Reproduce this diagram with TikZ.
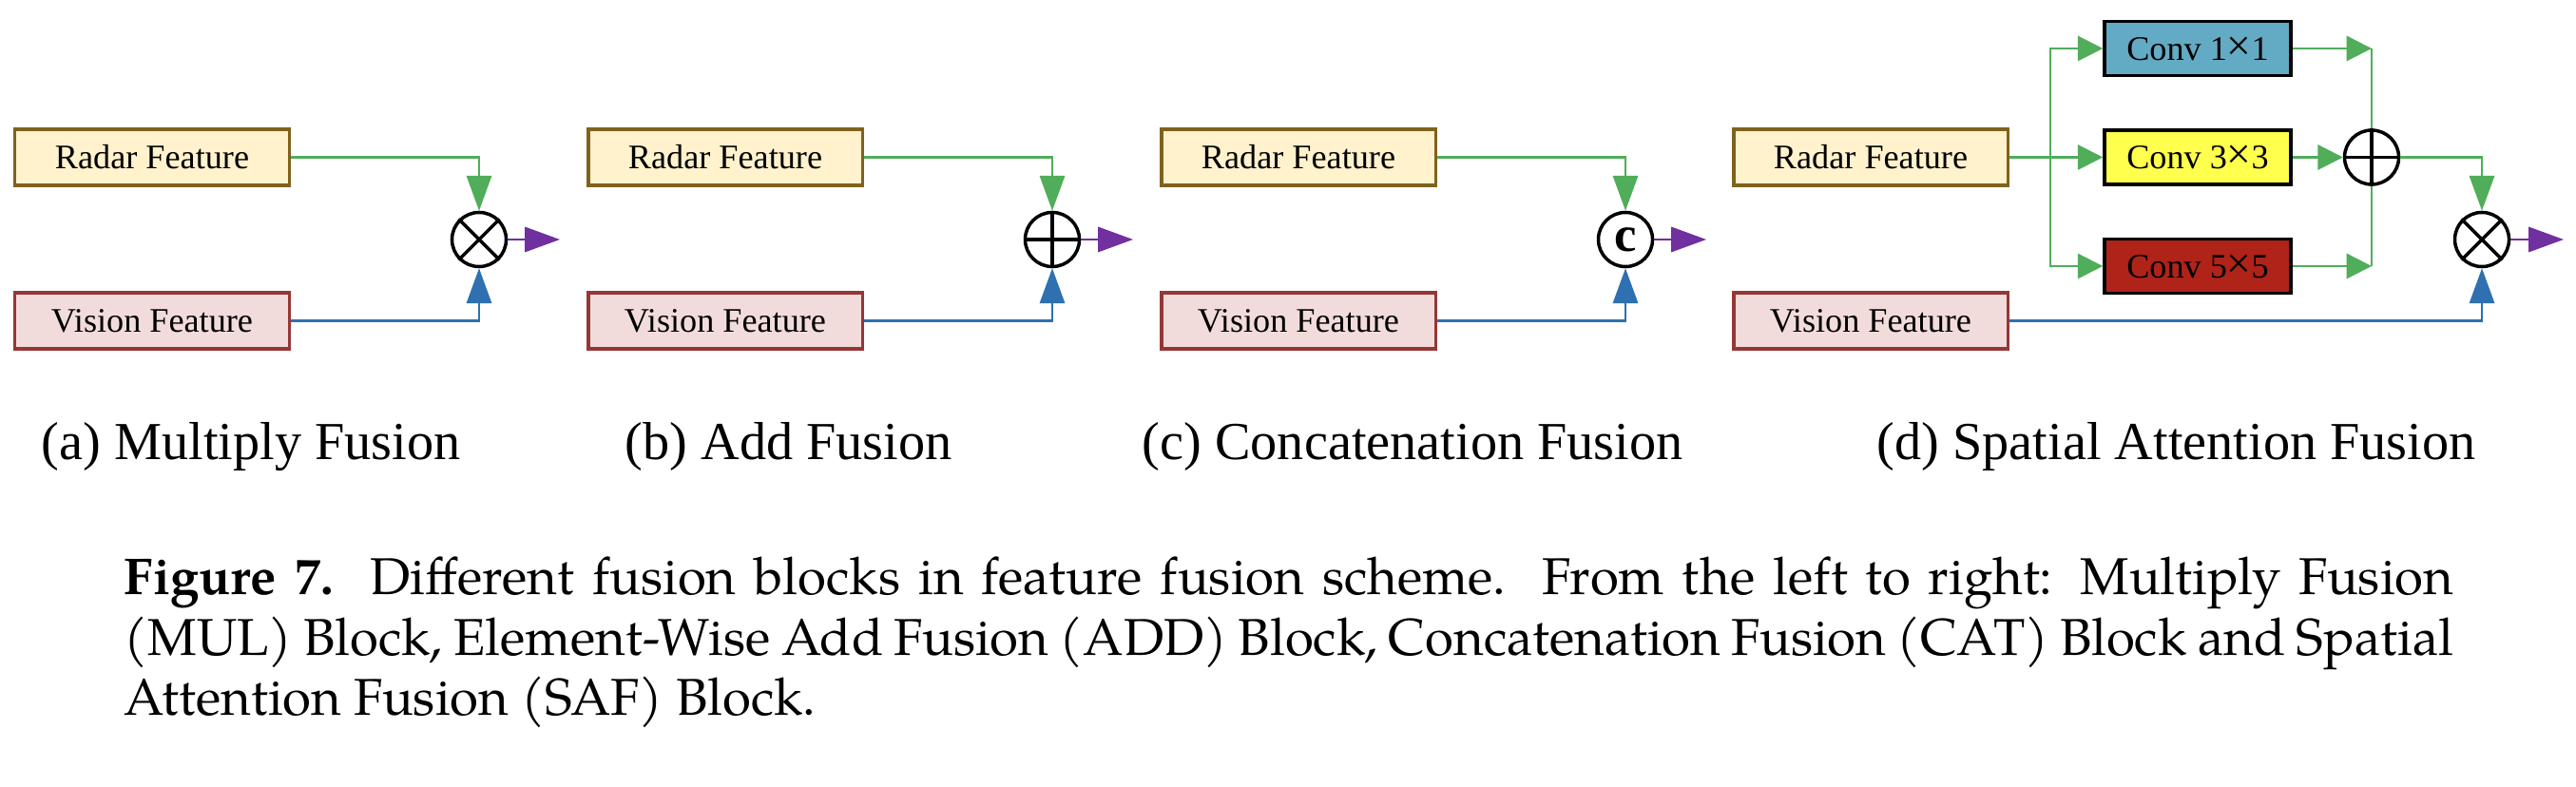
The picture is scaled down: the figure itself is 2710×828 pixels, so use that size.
\documentclass[tikz,border=0pt]{standalone}
\usepackage{fontspec}
\setmainfont{Liberation Serif}
\newfontfamily\capfont{TeX Gyre Pagella}
\usepackage{tikz}
\usetikzlibrary{arrows.meta}

\definecolor{radarfill}{RGB}{255,242,204}
\definecolor{radardraw}{RGB}{127,98,30}
\definecolor{visionfill}{RGB}{242,220,219}
\definecolor{visiondraw}{RGB}{149,55,53}
\definecolor{green1}{RGB}{80,173,90}
\definecolor{blue1}{RGB}{46,112,176}
\definecolor{purple1}{RGB}{112,48,160}
\definecolor{conv1fill}{RGB}{99,170,196}
\definecolor{conv3fill}{RGB}{255,255,77}
\definecolor{conv5fill}{RGB}{175,35,25}
\newcommand{\bigx}{{\fontsize{13}{13}\selectfont ×}}

\begin{document}
\begin{tikzpicture}[x=0.01cm, y=-0.01cm,
    feat/.style={draw, line width=.9pt, minimum width=2.88cm, minimum height=.59cm, inner sep=0pt, font=\fontsize{10.3}{12}\selectfont},
    radar/.style={feat, draw=radardraw, fill=radarfill},
    vision/.style={feat, draw=visiondraw, fill=visionfill},
    conv/.style={draw, line width=1pt, minimum width=1.96cm, minimum height=.57cm, inner sep=0pt, font=\fontsize{10.3}{12}\selectfont},
    op/.style={circle, draw, line width=1pt, minimum size=.57cm, inner sep=0pt, fill=white},
    gline/.style={green1, line width=.6pt},
    garrow/.style={gline, -{Triangle[length=10.5pt, width=7.5pt]}},
    gshort/.style={gline, -{Triangle[length=7.5pt, width=7.5pt]}},
    barrow/.style={blue1, line width=.6pt, -{Triangle[length=10.5pt, width=7.5pt]}},
    parrow/.style={purple1, line width=.6pt, -{Triangle[length=10.5pt, width=7.5pt]}},
    subcap/.style={anchor=base west, inner sep=0pt, font=\fontsize{16}{19}\selectfont}]
    \useasboundingbox (0,0) rectangle (2710,828);

    % (a) multiply
    \node[radar] (ra) at (160,165.5) {Radar Feature};
    \node[vision] (va) at (160,337.5) {Vision Feature};
    \node[op] (mula) at (504,252) {};
    \draw[line width=1pt] (mula.north west) -- (mula.south east) (mula.north east) -- (mula.south west);
    \coordinate (outa) at (589,252);
    \draw[garrow] (ra.east) -| (mula.north);
    \draw[barrow] (va.east) -| (mula.south);
    \draw[parrow] (mula.east) -- (outa);

    % (b) add
    \node[radar] (rb) at (763,165.5) {Radar Feature};
    \node[vision] (vb) at (763,337.5) {Vision Feature};
    \node[op] (addb) at (1107,252) {};
    \draw[line width=1pt] (addb.north) -- (addb.south) (addb.west) -- (addb.east);
    \coordinate (outb) at (1192,252);
    \draw[garrow] (rb.east) -| (addb.north);
    \draw[barrow] (vb.east) -| (addb.south);
    \draw[parrow] (addb.east) -- (outb);

    % (c) concatenation
    \node[radar] (rc) at (1366,165.5) {Radar Feature};
    \node[vision] (vc) at (1366,337.5) {Vision Feature};
    \node[op, font=\fontsize{15}{15}\selectfont\bfseries] (catc) at (1710,252) {c};
    \coordinate (outc) at (1795,252);
    \draw[garrow] (rc.east) -| (catc.north);
    \draw[barrow] (vc.east) -| (catc.south);
    \draw[parrow] (catc.east) -- (outc);

    % (d) spatial attention
    \node[radar] (rd) at (1968,165.5) {Radar Feature};
    \node[vision] (vd) at (1968,337.5) {Vision Feature};
    \node[conv, fill=conv1fill] (c1) at (2312,51) {Conv 1\bigx 1};
    \node[conv, fill=conv3fill] (c3) at (2312,165.5) {Conv 3\bigx 3};
    \node[conv, fill=conv5fill] (c5) at (2312,280) {Conv 5\bigx 5};
    \coordinate (sp) at (2157,165.5);
    \coordinate (m1) at (2495,51);
    \coordinate (m5) at (2495,280);
    \draw[gline] (m1) -- (m5);
    \node[op] (addd) at (2495,165.5) {};
    \draw[line width=1pt] (addd.north) -- (addd.south) (addd.west) -- (addd.east);
    \node[op] (muld) at (2611,252) {};
    \draw[line width=1pt] (muld.north west) -- (muld.south east) (muld.north east) -- (muld.south west);
    \coordinate (outd) at (2697,252);
    \draw[gshort] (rd.east) -- (c3.west);
    \draw[gshort] (sp) |- (c1.west);
    \draw[gshort] (sp) |- (c5.west);
    \draw[gshort] (c1.east) -- (m1);
    \draw[gshort] (c3.east) -- (addd.west);
    \draw[gshort] (c5.east) -- (m5);
    \draw[garrow] (addd.east) -| (muld.north);
    \draw[barrow] (vd.east) -| (muld.south);
    \draw[parrow] (muld.east) -- (outd);

    % sub captions
    \node[subcap] (capa) at (43,484) {(a) Multiply Fusion};
    \node[subcap] (capb) at (657,484) {(b) Add Fusion};
    \node[subcap] (capc) at (1201,484) {(c) Concatenation Fusion};
    \node[subcap] (capd) at (1974,484) {(d) Spatial Attention Fusion};

    % figure caption
    \node[anchor=base west, text width=24.49cm, align=justify, inner sep=0pt, font={\capfont\fontsize{15.5}{18}\selectfont}] (cap) at (130,626)
        {\textbf{Figure 7.}\ \ Different fusion blocks in feature fusion scheme.\ \ From the left to right: Multiply Fusion\linebreak
        (MUL) Block, Element-Wise Add Fusion (ADD) Block, Concatenation Fusion (CAT) Block and Spatial\linebreak
        Attention Fusion (SAF) Block.};
\end{tikzpicture}
\end{document}
